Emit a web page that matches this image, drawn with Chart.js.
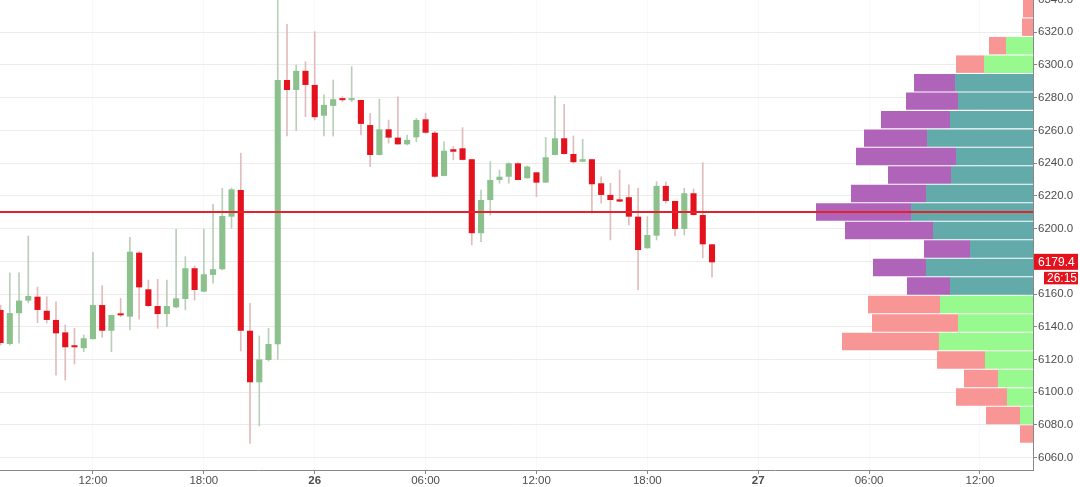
<!DOCTYPE html>
<html><head><meta charset="utf-8">
<script src="https://cdn.jsdelivr.net/npm/chart.js@4.4.1/dist/chart.umd.min.js"></script>
<style>html,body{margin:0;padding:0;background:#fff;overflow:hidden}#wrap{width:1080px;height:487px;position:relative}</style>
</head><body><div id="wrap"><canvas id="c"></canvas></div>
<script>
// 30-minute candles, time in hours since 00:00 on the 25th
const candleTimes = [7,7.5,8,8.5,9,9.5,10,10.5,11,11.5,12,12.5,13,13.5,14,14.5,15,15.5,16,16.5,17,17.5,18,18.5,19,19.5,20,20.5,21,21.5,22,22.5,23,23.5,24,24.5,25,25.5,26,26.5,27,27.5,28,28.5,29,29.5,30,30.5,31,31.5,32,32.5,33,33.5,34,34.5,35,35.5,36,36.5,37,37.5,38,38.5,39,39.5,40,40.5,41,41.5,42,42.5,43,43.5,44,44.5,45,45.5];
const openPrices = [6150.3,6129.5,6148.3,6156.0,6158.4,6149.8,6144.2,6136.6,6127.8,6126.9,6132.5,6153.3,6137.6,6147.2,6146.2,6185.3,6162.9,6152.7,6147.8,6151.9,6157.0,6175.8,6161.5,6171.7,6175.2,6207.3,6223.6,6137.6,6106.1,6119.7,6129.3,6290.8,6284.7,6296.4,6287.8,6269.0,6275.0,6279.1,6278.5,6278.6,6263.3,6245.0,6260.7,6255.6,6251.5,6255.8,6266.8,6258.6,6232.2,6248.5,6249.1,6242.4,6197.2,6217.5,6229.7,6231.7,6239.9,6230.8,6234.4,6228.1,6245.0,6255.2,6245.6,6240.9,6242.4,6227.7,6220.6,6217.9,6219.2,6207.3,6188.0,6195.7,6226.1,6216.9,6199.8,6221.6,6208.3,6190.4];
const highPrices = [6153.3,6172.9,6173.0,6195.5,6164.3,6158.4,6155.3,6141.1,6139.1,6135.0,6185.5,6165.1,6147.2,6157.4,6194.7,6185.9,6168.6,6169.0,6168.6,6199.6,6182.9,6177.2,6199.6,6214.9,6224.7,6224.8,6246.1,6154.4,6134.4,6139.1,6339.7,6324.9,6300.0,6302.0,6320.4,6281.7,6290.8,6280.6,6299.0,6278.6,6270.5,6279.1,6266.4,6280.6,6257.2,6267.4,6270.5,6259.3,6253.1,6250.1,6261.7,6242.4,6223.6,6240.9,6235.8,6240.3,6240.3,6238.3,6234.4,6255.8,6281.1,6276.0,6256.6,6254.6,6242.4,6231.7,6227.7,6235.8,6226.7,6224.7,6207.3,6228.7,6228.5,6216.9,6224.7,6224.2,6240.3,6190.4];
const lowPrices = [6128.9,6128.9,6130.1,6154.6,6142.5,6142.3,6110.5,6107.5,6117.3,6124.8,6132.5,6133.6,6124.8,6146.2,6138.1,6144.6,6152.1,6139.1,6140.1,6151.5,6150.3,6156.4,6161.3,6166.6,6174.7,6200.2,6125.2,6068.8,6079.4,6119.1,6120.1,6256.6,6259.9,6268.4,6266.4,6256.6,6256.6,6277.6,6277.6,6257.2,6237.9,6245.0,6252.2,6251.5,6251.1,6253.1,6258.3,6231.4,6232.2,6242.0,6242.0,6190.0,6192.0,6208.3,6227.7,6227.7,6229.7,6230.8,6219.5,6228.1,6245.0,6245.6,6239.9,6240.9,6209.4,6215.5,6193.1,6216.5,6202.2,6162.5,6188.0,6193.1,6215.5,6195.5,6196.1,6208.3,6182.1,6170.4];
const closePrices = [6130.1,6148.4,6156.0,6158.8,6150.3,6144.2,6136.0,6127.5,6127.5,6133.0,6153.3,6137.6,6147.2,6147.0,6185.9,6164.1,6152.7,6147.8,6152.7,6157.4,6175.8,6162.5,6172.1,6175.2,6207.7,6224.0,6137.6,6106.1,6120.1,6129.5,6290.8,6284.7,6296.4,6287.8,6268.1,6275.6,6279.1,6278.5,6278.7,6264.0,6245.0,6260.7,6255.6,6251.5,6254.2,6266.4,6258.6,6231.7,6247.6,6247.0,6242.0,6197.2,6217.5,6229.7,6231.7,6239.9,6229.7,6237.9,6228.1,6243.6,6255.2,6245.6,6240.6,6242.4,6227.1,6220.6,6217.5,6216.5,6207.3,6186.9,6196.1,6226.1,6216.9,6199.8,6221.6,6208.3,6190.4,6179.4];

// volume profile (bottom to top)
const profilePrices = [6074.5,6085.8,6097.1,6108.4,6119.7,6131.0,6142.3,6153.6,6164.9,6176.2,6187.5,6198.8,6210.1,6221.4,6232.7,6244.0,6255.3,6266.6,6277.9,6289.2,6300.5,6311.8,6323.1,6334.4];
const profileUp   = [0,13,26,35,48,94,75,93,83,107,63,100,122,107,82,77,106,83,75,78,49,27,0,0];
const profileDown = [13,34,51,34,48,97,86,72,43,53,46,88,95,75,63,100,63,69,52,41,28,17,11,10];
const valueAreaLow = 6159.2, valueAreaHigh = 6294.8;
const pocPrice = 6210.1;

// axes
const xTickHours = [12,18,24,30,36,42,48,54,60];
const yTickValues = [6060,6080,6100,6120,6140,6160,6180,6200,6220,6240,6260,6280,6300,6320,6340];
const countdownText = '26:15';

const X_MIN = 6.97, X_MAX = 62.87, Y_MIN = 6052.5, Y_MAX = 6339.7, PROFILE_MAX = 1033;

const UP = '#8cc08c', DOWN = '#e3121c';
const isUp = i => closePrices[i] >= openPrices[i];

const wickData = candleTimes.map((t,i)=>({x:t, y:[lowPrices[i], highPrices[i]]}));
const bodyData = candleTimes.map((t,i)=>({x:t, y:[openPrices[i], closePrices[i]]}));
const inVA = p => p > valueAreaLow && p < valueAreaHigh;
const upData = profilePrices.map((p,i)=>({y:p, x:[0, profileUp[i]]}));
const downData = profilePrices.map((p,i)=>({y:p, x:[profileUp[i], profileUp[i]+profileDown[i]]}));

const FONT = '"Liberation Sans", Arial, sans-serif';

const bgPlugin = {id:'bg', beforeDraw(ch){const c=ch.ctx;c.save();c.fillStyle='#fff';c.fillRect(0,0,ch.width,ch.height);c.restore();}};
const tagPlugin = {
  id:'tags',
  afterDraw(ch){
    const c = ch.ctx, y = ch.scales.y, r = ch.chartArea.right;
    const last = closePrices[closePrices.length-1];
    const py = y.getPixelForValue(last);
    c.save();
    c.fillStyle = DOWN;
    c.fillRect(r+1, py-8.5, 44, 16);
    c.fillRect(r+11, py+9.5, 34, 12.5);
    c.fillStyle = '#fff';
    c.font = '12px ' + FONT;
    c.textBaseline = 'middle'; c.textAlign = 'left';
    c.fillText(last.toFixed(1), r+5, py);
    c.fillText(countdownText, r+14, py+16);
    c.restore();
  }
};
const noPad = s => { s.paddingTop = 0; s.paddingBottom = 0; s.paddingLeft = 0; s.paddingRight = 0; };

new Chart(document.getElementById('c'), {
  type: 'bar',
  data: {
    datasets: [
      {type:'line', label:'poc', data:[{x:X_MIN,y:pocPrice},{x:X_MAX,y:pocPrice}], xAxisID:'x', yAxisID:'y',
       borderColor:'#e0232d', borderWidth:2, pointRadius:0, order:0},
      {label:'wick', data:wickData, xAxisID:'x', yAxisID:'y', grouped:false, barThickness:1,
       backgroundColor: candleTimes.map((t,i)=>isUp(i)?'#b9cfb9':'#e2bcbc'), order:3},
      {label:'body', data:bodyData, xAxisID:'x', yAxisID:'y', grouped:false, barPercentage:0.66, categoryPercentage:1,
       minBarLength:2, backgroundColor: candleTimes.map((t,i)=>isUp(i)?UP:DOWN), order:2},
      {label:'up', indexAxis:'y', data:upData, xAxisID:'xv', yAxisID:'yp', grouped:false, barPercentage:0.945, categoryPercentage:1,
       backgroundColor: profilePrices.map(p=>inVA(p)?'#63aaab':'#98f98e'), order:4},
      {label:'down', indexAxis:'y', data:downData, xAxisID:'xv', yAxisID:'yp', grouped:false, barPercentage:0.945, categoryPercentage:1,
       backgroundColor: profilePrices.map(p=>inVA(p)?'#b064b9':'#f89696'), order:4}
    ]
  },
  options: {
    responsive:true, maintainAspectRatio:false, animation:false,
    layout:{padding:0},
    plugins:{legend:{display:false}, tooltip:{enabled:false}},
    scales:{
      x:{type:'linear', position:'bottom', min:X_MIN, max:X_MAX, offset:false,
         afterBuildTicks: s => { s.ticks = xTickHours.map(v=>({value:v})); },
         afterFit: s => { s.height = 17; noPad(s); },
         grid:{color:'rgba(0,0,0,0.025)', tickColor:'#888', tickLength:4, offset:false},
         border:{color:'#888', width:1},
         ticks:{autoSkip:false, maxRotation:0, padding:0, color:'#4d4d4d',
           font: ctx => ({family:FONT, size:11.5, weight: (ctx.tick && ctx.tick.value % 24 === 0) ? 'bold' : 'normal'}),
           callback: v => v % 24 === 0 ? String(25 + v/24) : String(v % 24).padStart(2,'0') + ':00'}},
      y:{type:'linear', position:'right', min:Y_MIN, max:Y_MAX, offset:false,
         afterBuildTicks: s => { s.ticks = yTickValues.map(v=>({value:v})); },
         afterFit: s => { s.width = 47; noPad(s); },
         grid:{color:'#ececec', tickColor:'#888', tickLength:4, offset:false},
         border:{color:'#888', width:1},
         ticks:{autoSkip:false, padding:1, color:'#4d4d4d', font:{family:FONT, size:11.5},
           callback: v => Number(v).toFixed(1)}},
      xv:{type:'linear', display:false, reverse:true, min:0, max:PROFILE_MAX, offset:false, grid:{offset:false}},
      yp:{type:'linear', display:false, position:'right', min:Y_MIN, max:Y_MAX, offset:false, grid:{offset:false}}
    }
  },
  plugins:[bgPlugin, tagPlugin]
});
</script></body></html>
